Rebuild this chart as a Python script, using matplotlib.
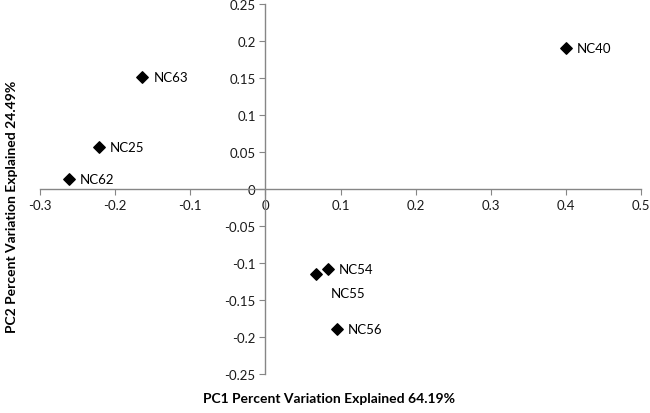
import matplotlib
matplotlib.use("Agg")
import matplotlib.pyplot as plt

names = ["NC63", "NC25", "NC62", "NC40", "NC54", "NC55", "NC56"]
pc1 = [-0.164, -0.222, -0.262, 0.400, 0.083, 0.068, 0.095]
pc2 = [0.152, 0.057, 0.014, 0.190, -0.108, -0.114, -0.189]
xticks = [-0.3, -0.2, -0.1, 0, 0.1, 0.2, 0.3, 0.4, 0.5]
yticks = [-0.25, -0.2, -0.15, -0.1, -0.05, 0, 0.05, 0.1, 0.15, 0.2, 0.25]
xlabel = "PC1 Percent Variation Explained 64.19%"
ylabel = "PC2 Percent Variation Explained 24.49%"

plt.rcParams['font.family'] = ['Lato', 'DejaVu Sans']

fig = plt.figure(figsize=(6.5, 4.14), dpi=100)
ax = fig.add_axes([40/650, (414-375.3)/414, (641-40)/650, (375.3-5)/414])
ax.scatter(pc1, pc2, marker='D', s=34, color='black', zorder=3)
for n, x, y in zip(names, pc1, pc2):
    if n == "NC55":
        ax.annotate(n, (x, y), xytext=(10, -14), textcoords='offset points',
                    fontsize=9.5, va='center', ha='left')
    else:
        ax.annotate(n, (x, y), xytext=(8, 0), textcoords='offset points',
                    fontsize=9.5, va='center', ha='left')

ax.set_xlim(-0.3, 0.5)
ax.set_ylim(-0.25, 0.25)
ax.set_xticks(xticks)
ax.set_yticks(yticks)
ax.set_xticklabels([f"{t:g}" for t in xticks])
ax.set_yticklabels([f"{t:g}" for t in yticks])
for s in ['top', 'right']:
    ax.spines[s].set_visible(False)
ax.spines['left'].set_position(('data', 0))
ax.spines['bottom'].set_position(('data', 0))
for s in ['left', 'bottom']:
    ax.spines[s].set_color('#868686')
    ax.spines[s].set_linewidth(1.0)
ax.tick_params(direction='out', length=4, color='#868686', labelsize=9.5,
               labelcolor='#1a1a1a', pad=3)
ax.patch.set_visible(False)

fig.text(329/650, 1 - 399/414, xlabel, ha='center', va='center',
         fontsize=10, fontweight='bold')
fig.text(12/650, 1 - 207/414, ylabel, ha='center', va='center',
         rotation=90, fontsize=10, fontweight='bold')

fig.savefig("out.png", dpi=100)
